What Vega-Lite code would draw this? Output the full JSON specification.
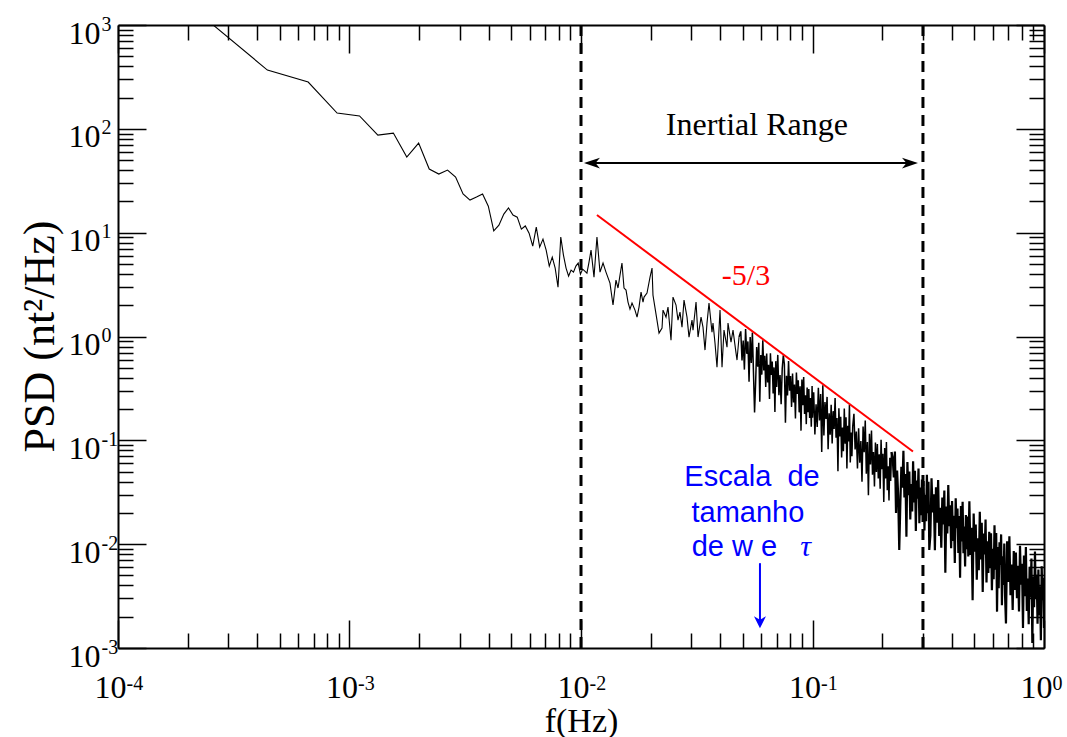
{
  "$schema": "https://vega.github.io/schema/vega-lite/v6.json",
  "width": 926,
  "height": 623,
  "autosize": {"type": "none"},
  "padding": {"left": 118, "top": 25, "right": 23, "bottom": 89},
  "background": "white",
  "config": {
    "view": {"stroke": null},
    "axis": {
      "domainColor": "black",
      "domainWidth": 2,
      "tickColor": "black",
      "tickWidth": 1.5,
      "labelFont": "Liberation Serif",
      "labelFontSize": 32,
      "labelColor": "black",
      "grid": false,
      "labelOverlap": false,
      "labelFlush": false,
      "labelBound": false
    }
  },
  "datasets": {
    "psd": [
      {"f":0.000221,"p":1330},{"f":0.000442,"p":368},{"f":0.000663,"p":282},{"f":0.000884,"p":142},{"f":0.001105,"p":133},{"f":0.001326,"p":87},{"f":0.001547,"p":91},{"f":0.001768,"p":53.5},{"f":0.001989,"p":72.9},{"f":0.00221,"p":41},
      {"f":0.002431,"p":36.7},{"f":0.002652,"p":40.1},{"f":0.002873,"p":34.3},{"f":0.003094,"p":23.6},{"f":0.003315,"p":20.6},{"f":0.003536,"p":22},{"f":0.003757,"p":23.6},{"f":0.003978,"p":18},{"f":0.004199,"p":10.4},{"f":0.00442,"p":11.8},
      {"f":0.004641,"p":15.1},{"f":0.004862,"p":17.3},{"f":0.005083,"p":14.8},{"f":0.005304,"p":14.1},{"f":0.005525,"p":10.8},{"f":0.005746,"p":11.6},{"f":0.005967,"p":9.9},{"f":0.006188,"p":7.43},{"f":0.006409,"p":11.3},{"f":0.00663,"p":7.26},
      {"f":0.006851,"p":8.67},{"f":0.007072,"p":6.79},{"f":0.007293,"p":4.76},{"f":0.007514,"p":5.82},{"f":0.007735,"p":4.56},{"f":0.007956,"p":2.99},{"f":0.008177,"p":9.08},{"f":0.008398,"p":6.09},{"f":0.008619,"p":4.56},{"f":0.00884,"p":3.82},
      {"f":0.009061,"p":4.36},{"f":0.009282,"p":4.17},{"f":0.009503,"p":4.76},{"f":0.009724,"p":5.09},{"f":0.009945,"p":3.99},{"f":0.010166,"p":4.46},{"f":0.010387,"p":4.27},{"f":0.010608,"p":4.08},{"f":0.010829,"p":5.21},{"f":0.01105,"p":6.79},
      {"f":0.01138,"p":3.73},{"f":0.01172,"p":9.07},{"f":0.01208,"p":4.17},{"f":0.01245,"p":5.1},{"f":0.01282,"p":4.17},{"f":0.01334,"p":3.27},{"f":0.01375,"p":2.01},{"f":0.01416,"p":3.49},{"f":0.01445,"p":2.93},{"f":0.01474,"p":3.9},
      {"f":0.01503,"p":5.1},{"f":0.01534,"p":2.93},{"f":0.01565,"p":2.8},{"f":0.01596,"p":2.145},{"f":0.01628,"p":1.837},{"f":0.01661,"p":2.1},{"f":0.01711,"p":1.796},{"f":0.01746,"p":1.538},{"f":0.01781,"p":1.92},{"f":0.01817,"p":2.677},
      {"f":0.01853,"p":2.145},{"f":0.01872,"p":2.397},{"f":0.01928,"p":2.619},{"f":0.01987,"p":3.735},{"f":0.02027,"p":4.56},{"f":0.02046,"p":2.505},{"f":0.02129,"p":1.439},{"f":0.02173,"p":1.078},{"f":0.02239,"p":1.205},{"f":0.02261,"p":1.796},
      {"f":0.02329,"p":1.538},{"f":0.02376,"p":1.92},{"f":0.02448,"p":0.923},{"f":0.02497,"p":2.397},{"f":0.02573,"p":2.01},{"f":0.02624,"p":1.439},{"f":0.02677,"p":1.718},{"f":0.02731,"p":1.232},{"f":0.02786,"p":2.242},{"f":0.0287,"p":1.538},
      {"f":0.02928,"p":0.987},{"f":0.03017,"p":1.439},{"f":0.03047,"p":1.153},{"f":0.0314,"p":2.145},{"f":0.03203,"p":0.987},{"f":0.033,"p":1.538},{"f":0.03365,"p":1.232},{"f":0.03433,"p":0.74},{"f":0.03502,"p":1.346},{"f":0.03572,"p":2.1},
      {"f":0.0368,"p":1.103},{"f":0.03717,"p":1.346},{"f":0.03792,"p":0.864},{"f":0.03868,"p":0.507},{"f":0.03986,"p":1.796},{"f":0.04066,"p":0.507},{"f":0.04147,"p":1.153},{"f":0.04273,"p":0.79},{"f":0.04315,"p":1.346},{"f":0.04446,"p":0.883},
      {"f":0.04536,"p":1.153},{"f":0.04674,"p":0.692},{"f":0.0472,"p":0.593},{"f":0.04815,"p":0.987},
      {"f":0.049,"p":1.12},{"f":0.0496,"p":0.589},{"f":0.0502,"p":0.912},{"f":0.0508,"p":0.48},{"f":0.0514,"p":1.18},{"f":0.052,"p":0.681},{"f":0.0526,"p":0.897},{"f":0.0532,"p":0.366},{"f":0.0538,"p":0.989},{"f":0.0544,"p":0.556},
      {"f":0.055,"p":1.09},{"f":0.0556,"p":0.444},{"f":0.0562,"p":0.185},{"f":0.0568,"p":0.361},{"f":0.0574,"p":0.792},{"f":0.058,"p":0.513},{"f":0.0586,"p":0.871},{"f":0.0592,"p":0.235},{"f":0.0598,"p":0.664},{"f":0.0604,"p":0.429},
      {"f":0.061,"p":0.918},{"f":0.0616,"p":0.472},{"f":0.0622,"p":0.653},{"f":0.0628,"p":0.327},{"f":0.0634,"p":0.686},{"f":0.064,"p":0.361},{"f":0.0646,"p":0.533},{"f":0.0652,"p":0.25},{"f":0.0658,"p":0.69},{"f":0.0664,"p":0.427},
      {"f":0.067,"p":0.575},{"f":0.0676,"p":0.282},{"f":0.0682,"p":0.504},{"f":0.0688,"p":0.187},{"f":0.0694,"p":0.579},{"f":0.07,"p":0.327},
      {"f":0.0708,"p":0.665},{"f":0.0716,"p":0.272},{"f":0.0724,"p":0.425},{"f":0.0732,"p":0.223},{"f":0.074,"p":0.491},{"f":0.0748,"p":0.66},{"f":0.0756,"p":0.544},{"f":0.0764,"p":0.1476},{"f":0.0772,"p":0.418},{"f":0.078,"p":0.27},
      {"f":0.0788,"p":0.582},{"f":0.0796,"p":0.3},{"f":0.0804,"p":0.416},{"f":0.0812,"p":0.21},{"f":0.082,"p":0.441},{"f":0.0828,"p":0.232},{"f":0.0836,"p":0.345},{"f":0.0844,"p":0.162},{"f":0.0852,"p":0.449},{"f":0.086,"p":0.279},
      {"f":0.0868,"p":0.378},{"f":0.0876,"p":0.186},{"f":0.0884,"p":0.332},{"f":0.0892,"p":0.124},{"f":0.09,"p":0.385},{"f":0.0908,"p":0.218},{"f":0.0916,"p":0.407},{"f":0.0924,"p":0.179},{"f":0.0932,"p":0.272},{"f":0.094,"p":0.1432},
      {"f":0.0948,"p":0.323},{"f":0.0956,"p":0.187},{"f":0.0964,"p":0.312},{"f":0.0972,"p":0.164},{"f":0.098,"p":0.255},{"f":0.0988,"p":0.1349},{"f":0.0996,"p":0.333},
      {"f":0.1,"p":0.165},{"f":0.1012,"p":0.29},{"f":0.1024,"p":0.114},{"f":0.1036,"p":0.222},{"f":0.1048,"p":0.1346},{"f":0.106,"p":0.321},{"f":0.1072,"p":0.155},{"f":0.1084,"p":0.279},{"f":0.1096,"p":0.0773},{"f":0.1108,"p":0.34},
      {"f":0.112,"p":0.1114},{"f":0.1132,"p":0.234},{"f":0.1144,"p":0.161},{"f":0.1156,"p":0.262},{"f":0.1168,"p":0.0822},{"f":0.118,"p":0.182},{"f":0.1192,"p":0.1132},{"f":0.1204,"p":0.22},{"f":0.1216,"p":0.0935},{"f":0.1228,"p":0.191},
      {"f":0.124,"p":0.1285},{"f":0.1252,"p":0.256},{"f":0.1264,"p":0.1062},{"f":0.1276,"p":0.164},{"f":0.1288,"p":0.0504},{"f":0.13,"p":0.204},{"f":0.1312,"p":0.1091},{"f":0.1324,"p":0.169},{"f":0.1336,"p":0.0682},{"f":0.1348,"p":0.1327},
      {"f":0.136,"p":0.0785},{"f":0.1372,"p":0.202},{"f":0.1384,"p":0.0925},{"f":0.1396,"p":0.167},{"f":0.1408,"p":0.0537},{"f":0.142,"p":0.138},{"f":0.1432,"p":0.0973},{"f":0.1444,"p":0.22},{"f":0.1456,"p":0.0611},{"f":0.1468,"p":0.1189},
      {"f":0.148,"p":0.0702},{"f":0.1492,"p":0.1365},
      {"f":0.151,"p":0.18},{"f":0.1528,"p":0.0817},{"f":0.1546,"p":0.1213},{"f":0.1564,"p":0.0536},{"f":0.1582,"p":0.1309},{"f":0.16,"p":0.061},{"f":0.1618,"p":0.0984},{"f":0.1636,"p":0.0399},{"f":0.1654,"p":0.1361},{"f":0.1672,"p":0.0769},
      {"f":0.169,"p":0.155},{"f":0.1708,"p":0.0476},{"f":0.1726,"p":0.0962},{"f":0.1744,"p":0.0296},{"f":0.1762,"p":0.1156},{"f":0.178,"p":0.0585},{"f":0.1798,"p":0.1245},{"f":0.1816,"p":0.0466},{"f":0.1834,"p":0.0773},{"f":0.1852,"p":0.036},
      {"f":0.187,"p":0.0955},{"f":0.1888,"p":0.0497},{"f":0.1906,"p":0.0923},{"f":0.1924,"p":0.043},{"f":0.1942,"p":0.0733},{"f":0.196,"p":0.0341},{"f":0.1978,"p":0.1014},{"f":0.1996,"p":0.0527},{"f":0.2014,"p":0.0741},{"f":0.2032,"p":0.0255},
      {"f":0.205,"p":0.0843},{"f":0.2068,"p":0.0428},{"f":0.2086,"p":0.0962},{"f":0.2104,"p":0.033},{"f":0.2122,"p":0.0564},{"f":0.214,"p":0.0263},{"f":0.2158,"p":0.0679},{"f":0.2176,"p":0.0406},{"f":0.2194,"p":0.0773},
      {"f":0.222,"p":0.0676},{"f":0.2245,"p":0.0438},{"f":0.227,"p":0.0782},{"f":0.2295,"p":0.02},{"f":0.232,"p":0.0512},{"f":0.2345,"p":0.0294},{"f":0.237,"p":0.00877},{"f":0.2395,"p":0.0237},{"f":0.242,"p":0.0556},{"f":0.2445,"p":0.0349},
      {"f":0.247,"p":0.0793},{"f":0.2495,"p":0.0282},{"f":0.252,"p":0.0474},{"f":0.2545,"p":0.01178},{"f":0.257,"p":0.0619},{"f":0.2595,"p":0.0296},{"f":0.262,"p":0.05},{"f":0.2645,"p":0.01726},{"f":0.267,"p":0.038},{"f":0.2695,"p":0.0206},
      {"f":0.272,"p":0.063},{"f":0.2745,"p":0.0252},{"f":0.277,"p":0.0509},{"f":0.2795,"p":0.0134},{"f":0.282,"p":0.0411},{"f":0.2845,"p":0.0274},{"f":0.287,"p":0.0536},{"f":0.2895,"p":0.01592},{"f":0.292,"p":0.0351},{"f":0.2945,"p":0.01897},
      {"f":0.297,"p":0.0419},{"f":0.2995,"p":0.0207},{"f":0.302,"p":0.0405},{"f":0.3045,"p":0.01355},{"f":0.307,"p":0.0299},{"f":0.3095,"p":0.01663},{"f":0.312,"p":0.0466},{"f":0.3145,"p":0.01982},{"f":0.317,"p":0.04},{"f":0.3195,"p":0.00879},
      {"f":0.323,"p":0.01211},{"f":0.3267,"p":0.0432},{"f":0.3304,"p":0.0202},{"f":0.3341,"p":0.0302},{"f":0.3378,"p":0.00873},{"f":0.3415,"p":0.0354},{"f":0.3452,"p":0.01607},{"f":0.3489,"p":0.0415},{"f":0.3526,"p":0.012},{"f":0.3563,"p":0.0224},
      {"f":0.36,"p":0.00925},{"f":0.3637,"p":0.0281},{"f":0.3674,"p":0.01545},{"f":0.3711,"p":0.0329},{"f":0.3748,"p":0.00532},{"f":0.3785,"p":0.023},{"f":0.3822,"p":0.01268},{"f":0.3859,"p":0.0372},{"f":0.3896,"p":0.01486},{"f":0.3933,"p":0.0237},
      {"f":0.397,"p":0.00914},{"f":0.4007,"p":0.026},{"f":0.4044,"p":0.01072},{"f":0.4081,"p":0.01879},{"f":0.4118,"p":0.00659},{"f":0.4155,"p":0.0276},{"f":0.4192,"p":0.01426},{"f":0.4229,"p":0.022},{"f":0.4266,"p":0.00822},{"f":0.4303,"p":0.01866},
      {"f":0.434,"p":0.00474},{"f":0.4377,"p":0.0233},{"f":0.4414,"p":0.01059},{"f":0.4451,"p":0.0256},{"f":0.4488,"p":0.00817},{"f":0.4525,"p":0.01479},{"f":0.4562,"p":0.0061},{"f":0.4599,"p":0.0191},{"f":0.4636,"p":0.00895},{"f":0.4673,"p":0.01845},
      {"f":0.471,"p":0.0076},
      {"f":0.476,"p":0.0259},{"f":0.4812,"p":0.00787},{"f":0.4864,"p":0.01442},{"f":0.4916,"p":0.00289},{"f":0.4968,"p":0.01968},{"f":0.502,"p":0.00845},{"f":0.5072,"p":0.01549},{"f":0.5124,"p":0.00455},{"f":0.5176,"p":0.01138},{"f":0.5228,"p":0.0056},
      {"f":0.528,"p":0.0205},{"f":0.5332,"p":0.00714},{"f":0.5384,"p":0.01611},{"f":0.5436,"p":0.00347},{"f":0.5488,"p":0.01265},{"f":0.554,"p":0.00794},{"f":0.5592,"p":0.0173},{"f":0.5644,"p":0.00428},{"f":0.5696,"p":0.01069},{"f":0.5748,"p":0.00527},
      {"f":0.58,"p":0.01315},{"f":0.5852,"p":0.00585},{"f":0.5904,"p":0.01274},{"f":0.5956,"p":0.00361},{"f":0.6008,"p":0.00904},{"f":0.606,"p":0.0046},{"f":0.6112,"p":0.01517},{"f":0.6164,"p":0.00568},{"f":0.6216,"p":0.0128},{"f":0.6268,"p":0.00224},
      {"f":0.632,"p":0.00938},{"f":0.6372,"p":0.00376},{"f":0.6424,"p":0.01042},{"f":0.6476,"p":0.00632},{"f":0.6528,"p":0.01242},{"f":0.658,"p":0.00258},{"f":0.6632,"p":0.00766},{"f":0.6684,"p":0.00405},{"f":0.6736,"p":0.01012},{"f":0.6788,"p":0.00318},
      {"f":0.685,"p":0.00172},{"f":0.6929,"p":0.01064},{"f":0.7008,"p":0.00433},{"f":0.7087,"p":0.01191},{"f":0.7166,"p":0.00323},{"f":0.7245,"p":0.00638},{"f":0.7324,"p":0.00232},{"f":0.7403,"p":0.00859},{"f":0.7482,"p":0.00362},{"f":0.7561,"p":0.0083},
      {"f":0.764,"p":0.00302},{"f":0.7719,"p":0.00619},{"f":0.7798,"p":0.00225},{"f":0.7877,"p":0.00966},{"f":0.7956,"p":0.00406},{"f":0.8035,"p":0.00646},{"f":0.8114,"p":0.00156},{"f":0.8193,"p":0.00778},{"f":0.8272,"p":0.00316},{"f":0.8351,"p":0.00938},
      {"f":0.843,"p":0.00227},{"f":0.8509,"p":0.00467},{"f":0.8588,"p":0.00169},{"f":0.8667,"p":0.00605},{"f":0.8746,"p":0.00306},{"f":0.8825,"p":0.00729},{"f":0.8904,"p":0.00112},{"f":0.8983,"p":0.00488},{"f":0.9062,"p":0.00247},{"f":0.9141,"p":0.00849},
      {"f":0.922,"p":0.00297},{"f":0.9299,"p":0.00508},{"f":0.9378,"p":0.00171},{"f":0.9457,"p":0.00569},{"f":0.9536,"p":0.00207},{"f":0.9615,"p":0.00394},{"f":0.9694,"p":0.00119},{"f":0.9773,"p":0.00614},{"f":0.9852,"p":0.00289},{"f":0.9931,"p":0.00475},
      {"f":1.0,"p":0.00156}
    ],
    "slope": [{"f":0.01172,"p":14.8},{"f":0.2716,"p":0.0781}],
    "bounds": [{"f":0.01},{"f":0.3}],
    "range_arrow": [{"f":0.0106,"p":46.8},{"f":0.2775,"p":46.8}],
    "head_left": [{"f":0.0103,"p":46.8}],
    "head_right": [{"f":0.2855,"p":46.8}],
    "scale_arrow": [{"f":0.0593,"p":0.00656,"p2":0.00175}],
    "scale_head": [{"f":0.0593,"p":0.00155}],
    "label_range": [{"f":0.0575,"p":87.2,"txt":"Inertial Range"}],
    "label_slope": [{"f":0.0516,"p":3.13,"txt":"-5/3"}],
    "label_scale": [
      {"f":0.0548,"p":0.0362,"txt":"Escala\u00a0 de"},
      {"f":0.0526,"p":0.01629,"txt":"tamanho"},
      {"f":0.046,"p":0.00766,"txt":"de w e"}
    ],
    "label_tau": [{"f":0.0933,"p":0.00766,"txt":"τ"}]
  },
  "layer": [
    {
      "data": {"name": "psd"},
      "transform": [{"filter": "datum.f <= 0.04815"}],
      "mark": {"type": "line", "color": "black", "strokeWidth": 1.1, "clip": true},
      "encoding": {
        "x": {
          "field": "f", "type": "quantitative",
          "scale": {"type": "log", "domain": [0.0001, 1], "nice": false},
          "axis": {
            "orient": "bottom",
            "values": [0.0001,0.0002,0.0003,0.0004,0.0005,0.0006,0.0007,0.0008,0.0009,0.001,0.002,0.003,0.004,0.005,0.006,0.007,0.008,0.009,0.01,0.02,0.03,0.04,0.05,0.06,0.07,0.08,0.09,0.1,0.2,0.3,0.4,0.5,0.6,0.7,0.8,0.9,1],
            "labelExpr": "abs(log(datum.value)/LN10 - round(log(datum.value)/LN10)) < 0.001 ? '10' : ''",
            "tickSize": {"condition": {"test": "abs(log(datum.value)/LN10 - round(log(datum.value)/LN10)) < 0.001", "value": -28}, "value": -15},
            "labelPadding": 52,
            "labelOffset": -8,
            "labelAlign": "center",
            "labelBaseline": "top",
            "title": "f(Hz)",
            "titleFont": "Liberation Serif",
            "titleFontSize": 34,
            "titleFontWeight": "normal",
            "titleColor": "black",
            "titleBaseline": "alphabetic",
            "titleY": 83
          }
        },
        "y": {
          "field": "p", "type": "quantitative",
          "scale": {"type": "log", "domain": [0.001, 1000], "nice": false},
          "axis": {
            "orient": "left",
            "values": [0.001,0.002,0.003,0.004,0.005,0.006,0.007,0.008,0.009,0.01,0.02,0.03,0.04,0.05,0.06,0.07,0.08,0.09,0.1,0.2,0.3,0.4,0.5,0.6,0.7,0.8,0.9,1,2,3,4,5,6,7,8,9,10,20,30,40,50,60,70,80,90,100,200,300,400,500,600,700,800,900,1000],
            "labelExpr": "abs(log(datum.value)/LN10 - round(log(datum.value)/LN10)) < 0.001 ? '10' : ''",
            "tickSize": {"condition": {"test": "abs(log(datum.value)/LN10 - round(log(datum.value)/LN10)) < 0.001", "value": -28}, "value": -15},
            "labelPadding": 46,
            "labelAlign": "right",
            "labelBaseline": "alphabetic",
            "labelOffset": 18,
            "title": "PSD (nt²/Hz)",
            "titleFont": "Liberation Serif",
            "titleFontSize": 44,
            "titleFontWeight": "normal",
            "titleColor": "black",
            "titleAngle": -90,
            "titleAlign": "center",
            "titleBaseline": "alphabetic",
            "titleX": -65,
            "titleY": 311
          }
        }
      }
    },
    {
      "data": {"name": "psd"},
      "transform": [{"filter": "datum.f >= 0.04815 && datum.f <= 0.2194"}],
      "mark": {"type": "line", "color": "black", "strokeWidth": 1.5, "clip": true},
      "encoding": {
        "x": {"field": "f", "type": "quantitative", "scale": {"type": "log", "domain": [0.0001, 1], "nice": false}, "axis": null},
        "y": {"field": "p", "type": "quantitative", "scale": {"type": "log", "domain": [0.001, 1000], "nice": false}, "axis": null}
      }
    },
    {
      "data": {"name": "psd"},
      "transform": [{"filter": "datum.f >= 0.2194"}],
      "mark": {"type": "line", "color": "black", "strokeWidth": 2.2, "clip": true},
      "encoding": {
        "x": {"field": "f", "type": "quantitative", "scale": {"type": "log", "domain": [0.0001, 1], "nice": false}, "axis": null},
        "y": {"field": "p", "type": "quantitative", "scale": {"type": "log", "domain": [0.001, 1000], "nice": false}, "axis": null}
      }
    },
    {
      "data": {"name": "slope"},
      "mark": {"type": "line", "color": "#ff0000", "strokeWidth": 2},
      "encoding": {
        "x": {
          "field": "f", "type": "quantitative",
          "scale": {"type": "log", "domain": [0.0001, 1], "nice": false},
          "axis": {
            "orient": "top",
            "values": [0.0001,0.0002,0.0003,0.0004,0.0005,0.0006,0.0007,0.0008,0.0009,0.001,0.002,0.003,0.004,0.005,0.006,0.007,0.008,0.009,0.01,0.02,0.03,0.04,0.05,0.06,0.07,0.08,0.09,0.1,0.2,0.3,0.4,0.5,0.6,0.7,0.8,0.9,1],
            "tickSize": {"condition": {"test": "abs(log(datum.value)/LN10 - round(log(datum.value)/LN10)) < 0.001", "value": -28}, "value": -15},
            "labels": false,
            "title": null
          }
        },
        "y": {
          "field": "p", "type": "quantitative",
          "scale": {"type": "log", "domain": [0.001, 1000], "nice": false},
          "axis": {
            "orient": "right",
            "values": [0.001,0.002,0.003,0.004,0.005,0.006,0.007,0.008,0.009,0.01,0.02,0.03,0.04,0.05,0.06,0.07,0.08,0.09,0.1,0.2,0.3,0.4,0.5,0.6,0.7,0.8,0.9,1,2,3,4,5,6,7,8,9,10,20,30,40,50,60,70,80,90,100,200,300,400,500,600,700,800,900,1000],
            "tickSize": {"condition": {"test": "abs(log(datum.value)/LN10 - round(log(datum.value)/LN10)) < 0.001", "value": -28}, "value": -15},
            "labels": false,
            "title": null
          }
        }
      }
    },
    {
      "data": {"name": "bounds"},
      "mark": {"type": "rule", "color": "black", "strokeWidth": 3, "strokeDash": [11, 7]},
      "encoding": {
        "x": {"field": "f", "type": "quantitative", "scale": {"type": "log", "domain": [0.0001, 1], "nice": false}, "axis": null}
      }
    },
    {
      "data": {"name": "range_arrow"},
      "mark": {"type": "line", "color": "black", "strokeWidth": 2},
      "encoding": {
        "x": {
          "field": "f", "type": "quantitative",
          "scale": {"type": "log", "domain": [0.0001, 1], "nice": false},
          "axis": {
            "orient": "bottom",
            "values": [0.0001, 0.001, 0.01, 0.1, 1],
            "labelExpr": "['-4','-3','-2','-1','0'][round(log(datum.value)/LN10) + 4]",
            "tickSize": -28,
            "tickOpacity": 0,
            "domain": false,
            "labelFontSize": 20,
            "labelAlign": "left",
            "labelBaseline": "top",
            "labelOffset": 8,
            "labelPadding": 53,
            "title": null
          }
        },
        "y": {
          "field": "p", "type": "quantitative",
          "scale": {"type": "log", "domain": [0.001, 1000], "nice": false},
          "axis": {
            "orient": "left",
            "values": [0.001, 0.01, 0.1, 1, 10, 100, 1000],
            "labelExpr": "['-3','-2','-1','0','1','2','3'][round(log(datum.value)/LN10) + 3]",
            "tickSize": -28,
            "tickOpacity": 0,
            "domain": false,
            "labelFontSize": 20,
            "labelAlign": "left",
            "labelBaseline": "alphabetic",
            "labelOffset": 5,
            "labelPadding": 45,
            "title": null
          }
        }
      }
    },
    {
      "data": {"name": "head_left"},
      "mark": {"type": "point", "shape": "M0,0L1,-0.34L0.72,0L1,0.34Z", "size": 1024, "filled": true, "color": "black", "opacity": 1, "strokeWidth": 1},
      "encoding": {
        "x": {"field": "f", "type": "quantitative", "scale": {"type": "log", "domain": [0.0001, 1], "nice": false}, "axis": null},
        "y": {"field": "p", "type": "quantitative", "scale": {"type": "log", "domain": [0.001, 1000], "nice": false}, "axis": null}
      }
    },
    {
      "data": {"name": "head_right"},
      "mark": {"type": "point", "shape": "M0,0L-1,-0.34L-0.72,0L-1,0.34Z", "size": 1024, "filled": true, "color": "black", "opacity": 1, "strokeWidth": 1},
      "encoding": {
        "x": {"field": "f", "type": "quantitative", "scale": {"type": "log", "domain": [0.0001, 1], "nice": false}, "axis": null},
        "y": {"field": "p", "type": "quantitative", "scale": {"type": "log", "domain": [0.001, 1000], "nice": false}, "axis": null}
      }
    },
    {
      "data": {"name": "scale_arrow"},
      "mark": {"type": "rule", "color": "#0000ff", "strokeWidth": 2},
      "encoding": {
        "x": {"field": "f", "type": "quantitative", "scale": {"type": "log", "domain": [0.0001, 1], "nice": false}, "axis": null},
        "y": {"field": "p", "type": "quantitative", "scale": {"type": "log", "domain": [0.001, 1000], "nice": false}, "axis": null},
        "y2": {"field": "p2"}
      }
    },
    {
      "data": {"name": "scale_head"},
      "mark": {"type": "point", "shape": "M0,0L-0.5,-1L0,-0.7L0.5,-1Z", "size": 576, "filled": true, "color": "#0000ff", "opacity": 1, "strokeWidth": 0},
      "encoding": {
        "x": {"field": "f", "type": "quantitative", "scale": {"type": "log", "domain": [0.0001, 1], "nice": false}, "axis": null},
        "y": {"field": "p", "type": "quantitative", "scale": {"type": "log", "domain": [0.001, 1000], "nice": false}, "axis": null}
      }
    },
    {
      "data": {"name": "label_range"},
      "mark": {"type": "text", "font": "Liberation Serif", "fontSize": 32, "color": "black", "align": "center", "baseline": "alphabetic"},
      "encoding": {
        "x": {"field": "f", "type": "quantitative", "scale": {"type": "log", "domain": [0.0001, 1], "nice": false}, "axis": null},
        "y": {"field": "p", "type": "quantitative", "scale": {"type": "log", "domain": [0.001, 1000], "nice": false}, "axis": null},
        "text": {"field": "txt"}
      }
    },
    {
      "data": {"name": "label_slope"},
      "mark": {"type": "text", "font": "Liberation Serif", "fontSize": 30, "color": "#ff0000", "align": "center", "baseline": "alphabetic"},
      "encoding": {
        "x": {"field": "f", "type": "quantitative", "scale": {"type": "log", "domain": [0.0001, 1], "nice": false}, "axis": null},
        "y": {"field": "p", "type": "quantitative", "scale": {"type": "log", "domain": [0.001, 1000], "nice": false}, "axis": null},
        "text": {"field": "txt"}
      }
    },
    {
      "data": {"name": "label_scale"},
      "mark": {"type": "text", "font": "Liberation Sans", "fontSize": 29, "color": "#0000ff", "align": "center", "baseline": "alphabetic"},
      "encoding": {
        "x": {"field": "f", "type": "quantitative", "scale": {"type": "log", "domain": [0.0001, 1], "nice": false}, "axis": null},
        "y": {"field": "p", "type": "quantitative", "scale": {"type": "log", "domain": [0.001, 1000], "nice": false}, "axis": null},
        "text": {"field": "txt"}
      }
    },
    {
      "data": {"name": "label_tau"},
      "mark": {"type": "text", "font": "Liberation Serif", "fontStyle": "italic", "fontSize": 30, "color": "#0000ff", "align": "center", "baseline": "alphabetic"},
      "encoding": {
        "x": {"field": "f", "type": "quantitative", "scale": {"type": "log", "domain": [0.0001, 1], "nice": false}, "axis": null},
        "y": {"field": "p", "type": "quantitative", "scale": {"type": "log", "domain": [0.001, 1000], "nice": false}, "axis": null},
        "text": {"field": "txt"}
      }
    }
  ],
  "resolve": {"axis": {"x": "independent", "y": "independent"}}
}
